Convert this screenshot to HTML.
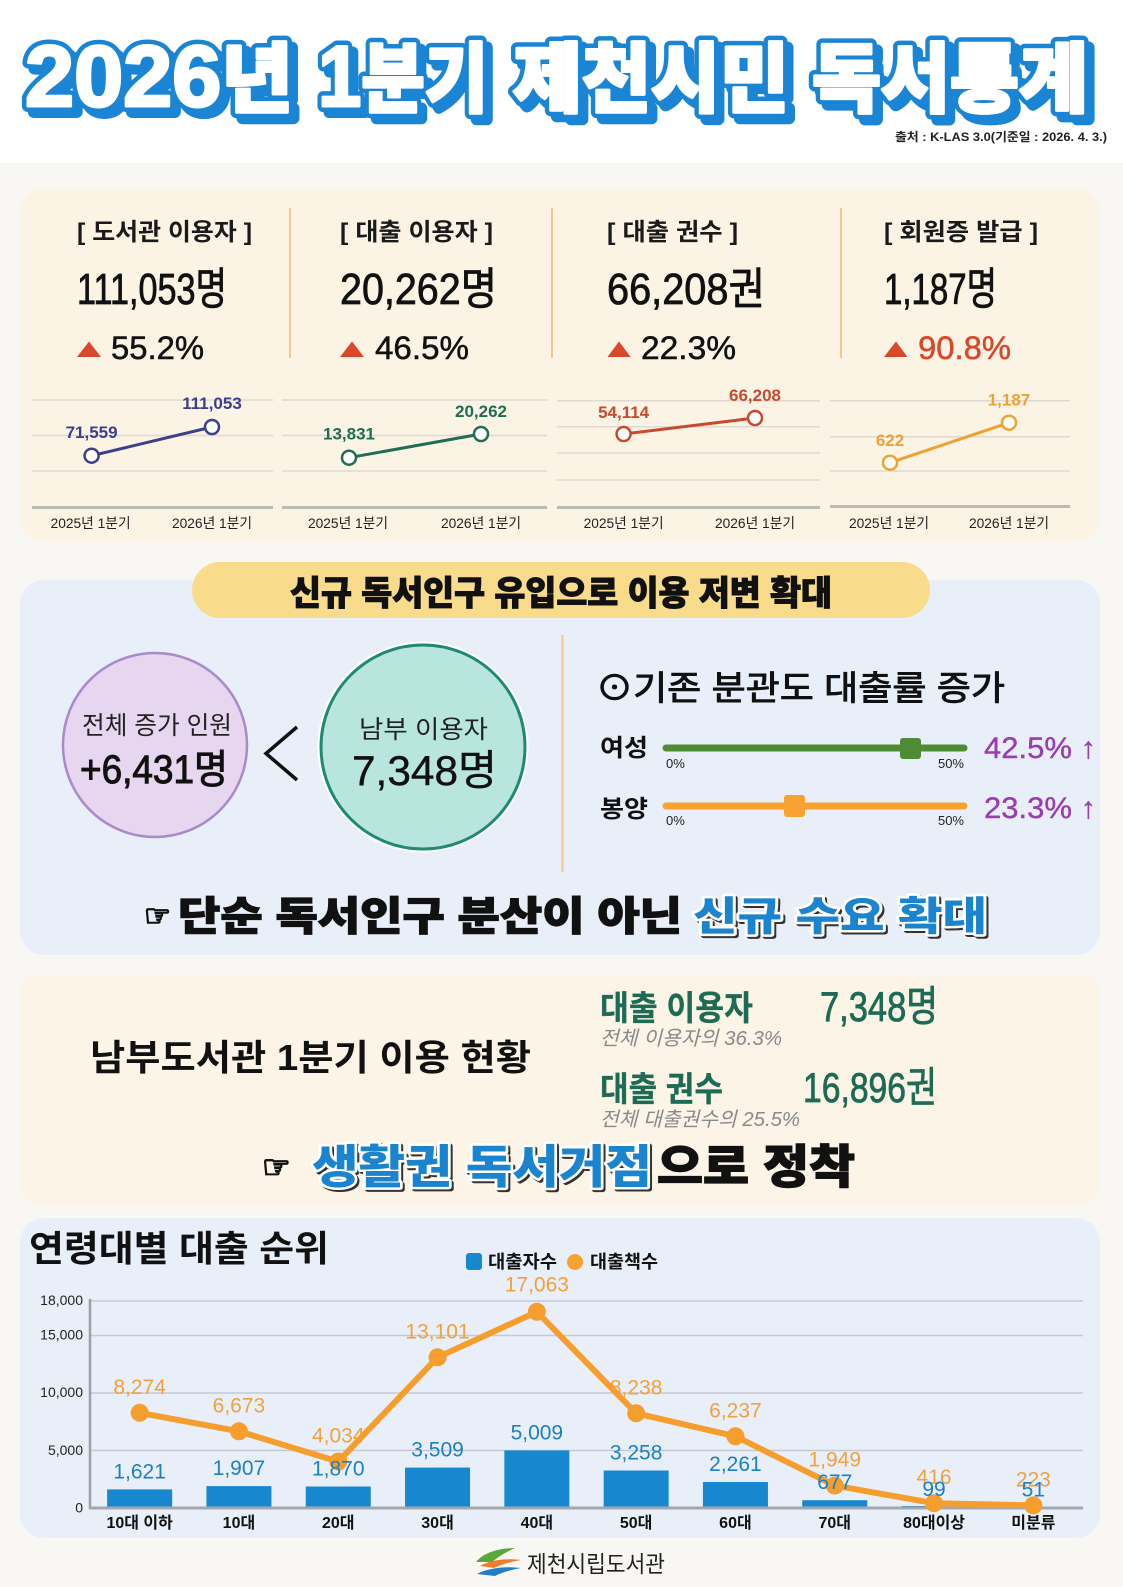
<!DOCTYPE html>
<html><head><meta charset="utf-8">
<style>
html,body{margin:0;padding:0;background:#f8f7f4;}
svg{display:block;}
text{font-family:"Liberation Sans","Noto Sans CJK KR","DejaVu Sans",sans-serif;}
.d{font-family:"DejaVu Sans","Liberation Sans",sans-serif;}
</style></head><body>
<svg width="1123" height="1587" viewBox="0 0 1123 1587" xmlns="http://www.w3.org/2000/svg">
<rect width="1123" height="1587" fill="#f8f7f4"/>
<rect width="1123" height="163" fill="#ffffff"/>

<!-- TITLE -->
<g font-weight="900">
 <g transform="translate(6,6)" fill="#1a85d5" stroke="#1a85d5" stroke-width="12" stroke-linejoin="round">
  <text x="25" y="106" textLength="268" lengthAdjust="spacingAndGlyphs"><tspan font-size="86">2026</tspan><tspan font-size="76">년</tspan></text>
  <text x="318" y="106" textLength="170" lengthAdjust="spacingAndGlyphs"><tspan font-size="86">1</tspan><tspan font-size="76">분기</tspan></text>
  <text x="513" y="106" font-size="76" textLength="276" lengthAdjust="spacingAndGlyphs">제천시민</text>
  <text x="812" y="106" font-size="76" textLength="276" lengthAdjust="spacingAndGlyphs">독서통계</text>
 </g>
 <g fill="#1a85d5" stroke="#1a85d5" stroke-width="12" stroke-linejoin="round">
  <text x="25" y="106" textLength="268" lengthAdjust="spacingAndGlyphs"><tspan font-size="86">2026</tspan><tspan font-size="76">년</tspan></text>
  <text x="318" y="106" textLength="170" lengthAdjust="spacingAndGlyphs"><tspan font-size="86">1</tspan><tspan font-size="76">분기</tspan></text>
  <text x="513" y="106" font-size="76" textLength="276" lengthAdjust="spacingAndGlyphs">제천시민</text>
  <text x="812" y="106" font-size="76" textLength="276" lengthAdjust="spacingAndGlyphs">독서통계</text>
 </g>
 <g fill="#ffffff" stroke="#ffffff" stroke-width="3" stroke-linejoin="round">
  <text x="25" y="106" textLength="268" lengthAdjust="spacingAndGlyphs"><tspan font-size="86">2026</tspan><tspan font-size="76">년</tspan></text>
  <text x="318" y="106" textLength="170" lengthAdjust="spacingAndGlyphs"><tspan font-size="86">1</tspan><tspan font-size="76">분기</tspan></text>
  <text x="513" y="106" font-size="76" textLength="276" lengthAdjust="spacingAndGlyphs">제천시민</text>
  <text x="812" y="106" font-size="76" textLength="276" lengthAdjust="spacingAndGlyphs">독서통계</text>
 </g>
</g>
<text x="1107" y="141" text-anchor="end" font-size="12" font-weight="bold" fill="#222" textLength="212" lengthAdjust="spacingAndGlyphs">출처 : K-LAS 3.0(기준일 : 2026. 4. 3.)</text>

<!-- PANELS -->
<rect x="20" y="189" width="1080" height="352" rx="22" fill="#fbf3e4"/>
<rect x="20" y="580" width="1080" height="375" rx="24" fill="#e9eff9"/>
<rect x="20" y="975" width="1080" height="230" rx="18" fill="#fbf4e7"/>
<rect x="20" y="1218" width="1080" height="320" rx="24" fill="#e9eff9"/>

<!-- PANEL 1 -->
<g stroke="#f2c892" stroke-width="2">
 <line x1="290" y1="208" x2="290" y2="358"/>
 <line x1="552" y1="208" x2="552" y2="358"/>
 <line x1="841" y1="208" x2="841" y2="358"/>
</g>
<g font-size="24" font-weight="bold" fill="#1a1a1a">
 <text x="77" y="240" textLength="175" lengthAdjust="spacingAndGlyphs">[ 도서관 이용자 ]</text>
 <text x="340" y="240" textLength="153" lengthAdjust="spacingAndGlyphs">[ 대출 이용자 ]</text>
 <text x="607" y="240" textLength="131" lengthAdjust="spacingAndGlyphs">[ 대출 권수 ]</text>
 <text x="884" y="240" textLength="154" lengthAdjust="spacingAndGlyphs">[ 회원증 발급 ]</text>
</g>
<g font-size="44" fill="#111" stroke="#111" stroke-width="0.8">
 <text x="77" y="304" textLength="150" lengthAdjust="spacingAndGlyphs">111,053명</text>
 <text x="340" y="304" textLength="157" lengthAdjust="spacingAndGlyphs">20,262명</text>
 <text x="607" y="304" textLength="158" lengthAdjust="spacingAndGlyphs">66,208권</text>
 <text x="884" y="304" textLength="113" lengthAdjust="spacingAndGlyphs">1,187명</text>
</g>
<g fill="#d9482b">
 <polygon points="77,357 89,341.5 101,357"/>
 <polygon points="340,357 352,341.5 364,357"/>
 <polygon points="607.5,357 619,341.5 630.7,357"/>
 <polygon points="884,357 896,341.5 907.5,357"/>
</g>
<g font-size="32" stroke-width="0.5">
 <text x="111" y="359" fill="#111" stroke="#111" textLength="93" lengthAdjust="spacingAndGlyphs">55.2%</text>
 <text x="375" y="359" fill="#111" stroke="#111" textLength="94" lengthAdjust="spacingAndGlyphs">46.5%</text>
 <text x="641" y="359" fill="#111" stroke="#111" textLength="95" lengthAdjust="spacingAndGlyphs">22.3%</text>
 <text x="918" y="359" fill="#d9482b" stroke="#d9482b" textLength="93" lengthAdjust="spacingAndGlyphs">90.8%</text>
</g>

<!-- mini charts -->
<g stroke="#dedad3" stroke-width="1.5">
 <line x1="32" y1="400" x2="273" y2="400"/><line x1="32" y1="435.5" x2="273" y2="435.5"/><line x1="32" y1="471" x2="273" y2="471"/>
 <line x1="282" y1="400" x2="547" y2="400"/><line x1="282" y1="435.5" x2="547" y2="435.5"/><line x1="282" y1="471" x2="547" y2="471"/>
 <line x1="557" y1="400.7" x2="820" y2="400.7"/><line x1="557" y1="426.7" x2="820" y2="426.7"/><line x1="557" y1="453" x2="820" y2="453"/><line x1="557" y1="480" x2="820" y2="480"/>
 <line x1="830" y1="400.7" x2="1070" y2="400.7"/><line x1="830" y1="436.7" x2="1070" y2="436.7"/><line x1="830" y1="471" x2="1070" y2="471"/>
</g>
<g stroke="#bcbab5" stroke-width="3">
 <line x1="32" y1="507.5" x2="273" y2="507.5"/>
 <line x1="282" y1="507.5" x2="547" y2="507.5"/>
 <line x1="557" y1="507.5" x2="820" y2="507.5"/>
 <line x1="830" y1="506.5" x2="1070" y2="506.5"/>
</g>
<g fill="none" stroke-width="3">
 <line x1="91.6" y1="455.7" x2="212" y2="427" stroke="#3b3f8c"/>
 <line x1="349" y1="457.7" x2="481" y2="434" stroke="#1f6d55"/>
 <line x1="623.6" y1="434" x2="755" y2="418" stroke="#c84a2e"/>
 <line x1="890" y1="462.7" x2="1009" y2="422.7" stroke="#eea234"/>
</g>
<g fill="#ffffff" stroke-width="2.5">
 <circle cx="91.6" cy="455.7" r="7" stroke="#3b3f8c"/><circle cx="212" cy="427" r="7" stroke="#3b3f8c"/>
 <circle cx="349" cy="457.7" r="7" stroke="#1f6d55"/><circle cx="481" cy="434" r="7" stroke="#1f6d55"/>
 <circle cx="623.6" cy="434" r="7" stroke="#c84a2e"/><circle cx="755" cy="418" r="7" stroke="#c84a2e"/>
 <circle cx="890" cy="462.7" r="7" stroke="#eea234"/><circle cx="1009" cy="422.7" r="7" stroke="#eea234"/>
</g>
<g font-size="17" font-weight="bold" text-anchor="middle">
 <text x="91.6" y="438" fill="#3b3f8c">71,559</text>
 <text x="212" y="409" fill="#3b3f8c">111,053</text>
 <text x="349" y="439.5" fill="#1f6d55">13,831</text>
 <text x="481" y="417" fill="#1f6d55">20,262</text>
 <text x="623.6" y="418" fill="#c84a2e">54,114</text>
 <text x="755" y="401" fill="#c84a2e">66,208</text>
 <text x="890" y="446" fill="#eea234">622</text>
 <text x="1009" y="405.5" fill="#eea234">1,187</text>
</g>
<g font-size="14" fill="#222" text-anchor="middle">
 <text x="90.6" y="528" textLength="80" lengthAdjust="spacingAndGlyphs">2025년 1분기</text>
 <text x="212" y="528" textLength="80" lengthAdjust="spacingAndGlyphs">2026년 1분기</text>
 <text x="348" y="528" textLength="80" lengthAdjust="spacingAndGlyphs">2025년 1분기</text>
 <text x="481" y="528" textLength="80" lengthAdjust="spacingAndGlyphs">2026년 1분기</text>
 <text x="623.6" y="528" textLength="80" lengthAdjust="spacingAndGlyphs">2025년 1분기</text>
 <text x="755" y="528" textLength="80" lengthAdjust="spacingAndGlyphs">2026년 1분기</text>
 <text x="889" y="528" textLength="80" lengthAdjust="spacingAndGlyphs">2025년 1분기</text>
 <text x="1009" y="528" textLength="80" lengthAdjust="spacingAndGlyphs">2026년 1분기</text>
</g>

<!-- PANEL 2 -->
<rect x="192" y="562" width="738" height="56" rx="28" fill="#f8dc8c"/>
<text x="290" y="605" font-size="34" font-weight="900" fill="#111" stroke="#111" stroke-width="1" textLength="542" lengthAdjust="spacingAndGlyphs">신규 독서인구 유입으로 이용 저변 확대</text>

<circle cx="155" cy="745" r="92" fill="#e6d6f0" stroke="#a88bc9" stroke-width="2.5"/>
<circle cx="423" cy="747" r="104" fill="none" stroke="#ffffff" stroke-width="3"/>
<circle cx="423" cy="747" r="102" fill="#b8e6df" stroke="#1f8a70" stroke-width="3"/>
<text x="157" y="734" text-anchor="middle" font-size="25" fill="#222" textLength="150" lengthAdjust="spacingAndGlyphs">전체 증가 인원</text>
<text x="154" y="783" text-anchor="middle" font-size="40" fill="#111" stroke="#111" stroke-width="1" textLength="148" lengthAdjust="spacingAndGlyphs">+6,431명</text>
<text x="423.5" y="738" text-anchor="middle" font-size="25" fill="#222" textLength="129" lengthAdjust="spacingAndGlyphs">남부 이용자</text>
<text x="424.5" y="785" text-anchor="middle" font-size="42" fill="#111" stroke="#111" stroke-width="0.4" textLength="145" lengthAdjust="spacingAndGlyphs">7,348명</text>
<path d="M297,727 L266,753.5 L297,780" fill="none" stroke="#111" stroke-width="3.5" stroke-linejoin="miter"/>

<line x1="562.5" y1="635" x2="562.5" y2="872" stroke="#f2c48e" stroke-width="2"/>
<text x="596" y="700" font-size="34" fill="#111" stroke="#111" stroke-width="0.9" textLength="409" lengthAdjust="spacingAndGlyphs">⊙기존 분관도 대출률 증가</text>

<text x="600" y="756" font-size="24" font-weight="bold" fill="#111" textLength="48" lengthAdjust="spacingAndGlyphs">여성</text>
<line x1="666" y1="748" x2="964" y2="748" stroke="#4f8b35" stroke-width="7" stroke-linecap="round"/>
<rect x="900" y="738" width="21" height="21" rx="3" fill="#4f8b35"/>
<text x="666" y="768" font-size="13" fill="#222">0%</text>
<text x="964" y="768" font-size="13" fill="#222" text-anchor="end">50%</text>
<text x="984" y="758" font-size="30" fill="#9a3db3" stroke="#9a3db3" stroke-width="0.4" textLength="112" lengthAdjust="spacingAndGlyphs">42.5% ↑</text>

<text x="600" y="817" font-size="24" font-weight="bold" fill="#111" textLength="48" lengthAdjust="spacingAndGlyphs">봉양</text>
<line x1="666" y1="806" x2="964" y2="806" stroke="#f8a232" stroke-width="7" stroke-linecap="round"/>
<rect x="784" y="795" width="21" height="22" rx="3" fill="#f8a232"/>
<text x="666" y="825" font-size="13" fill="#222">0%</text>
<text x="964" y="825" font-size="13" fill="#222" text-anchor="end">50%</text>
<text x="984" y="818" font-size="30" fill="#9a3db3" stroke="#9a3db3" stroke-width="0.4" textLength="112" lengthAdjust="spacingAndGlyphs">23.3% ↑</text>

<text x="144" y="926" class="d" font-size="30" fill="#111" stroke="#111" stroke-width="1.6">☞</text>
<text x="178" y="930" font-size="40" font-weight="900" fill="#111" stroke="#111" stroke-width="1.2" textLength="504" lengthAdjust="spacingAndGlyphs">단순 독서인구 분산이 아닌</text>
<text x="695" y="932" font-size="40" font-weight="900" fill="#333" stroke="#333" stroke-width="5" stroke-linejoin="round" textLength="294" lengthAdjust="spacingAndGlyphs">신규 수요 확대</text>
<text x="693" y="930" font-size="40" font-weight="900" fill="#1a84cf" stroke="#ffffff" stroke-width="5" stroke-linejoin="round" paint-order="stroke" textLength="294" lengthAdjust="spacingAndGlyphs">신규 수요 확대</text>

<!-- PANEL 3 -->
<text x="90" y="1070" font-size="36" font-weight="bold" fill="#111" textLength="441" lengthAdjust="spacingAndGlyphs">남부도서관 1분기 이용 현황</text>
<g fill="#1e6b55" stroke="#1e6b55">
 <text x="600" y="1020" font-size="34" font-weight="bold" stroke-width="0.3" textLength="153" lengthAdjust="spacingAndGlyphs">대출 이용자</text>
 <text x="820" y="1021" font-size="42" stroke-width="0.8" textLength="118" lengthAdjust="spacingAndGlyphs">7,348명</text>
 <text x="600" y="1101" font-size="34" font-weight="bold" stroke-width="0.3" textLength="123" lengthAdjust="spacingAndGlyphs">대출 권수</text>
 <text x="803" y="1102" font-size="42" stroke-width="0.8" textLength="134" lengthAdjust="spacingAndGlyphs">16,896권</text>
</g>
<text x="600" y="1045" font-size="20" font-style="italic" fill="#8a8a8a" textLength="182" lengthAdjust="spacingAndGlyphs">전체 이용자의 36.3%</text>
<text x="600" y="1126" font-size="20" font-style="italic" fill="#8a8a8a" textLength="200" lengthAdjust="spacingAndGlyphs">전체 대출권수의 25.5%</text>

<text x="262" y="1178" class="d" font-size="32" fill="#111" stroke="#111" stroke-width="1.6">☞</text>
<text x="314" y="1185" font-size="46" font-weight="900" fill="#333" stroke="#333" stroke-width="5" stroke-linejoin="round" textLength="340" lengthAdjust="spacingAndGlyphs">생활권 독서거점</text>
<text x="312" y="1183" font-size="46" font-weight="900" fill="#1a84cf" stroke="#ffffff" stroke-width="5" stroke-linejoin="round" paint-order="stroke" textLength="340" lengthAdjust="spacingAndGlyphs">생활권 독서거점</text>
<text x="657" y="1183" font-size="46" font-weight="900" fill="#111" stroke="#111" stroke-width="1.3" textLength="198" lengthAdjust="spacingAndGlyphs">으로 정착</text>

<!-- PANEL 4 -->
<text x="29" y="1261" font-size="36" font-weight="bold" fill="#111" textLength="300" lengthAdjust="spacingAndGlyphs">연령대별 대출 순위</text>
<rect x="466" y="1253" width="16" height="17" rx="3" fill="#1787d0"/>
<text x="488" y="1268" font-size="18" font-weight="bold" fill="#111" textLength="69" lengthAdjust="spacingAndGlyphs">대출자수</text>
<circle cx="575" cy="1262" r="8" fill="#f7a231"/>
<text x="590" y="1268" font-size="18" font-weight="bold" fill="#111" textLength="68" lengthAdjust="spacingAndGlyphs">대출책수</text>

<g stroke="#c5cad2" stroke-width="1.5">
 <line x1="90" y1="1301" x2="1083" y2="1301"/>
 <line x1="90" y1="1335.5" x2="1083" y2="1335.5"/>
 <line x1="90" y1="1393" x2="1083" y2="1393"/>
 <line x1="90" y1="1450.5" x2="1083" y2="1450.5"/>
</g>
<g font-size="14" fill="#222" text-anchor="end">
 <text x="83" y="1305">18,000</text>
 <text x="83" y="1339.5">15,000</text>
 <text x="83" y="1397">10,000</text>
 <text x="83" y="1455">5,000</text>
 <text x="83" y="1512.5">0</text>
</g>
<g fill="#1787d0">
 <rect x="107.15" y="1489.4" width="65" height="18.6"/>
 <rect x="206.45" y="1486.1" width="65" height="21.9"/>
 <rect x="305.75" y="1486.5" width="65" height="21.5"/>
 <rect x="405.05" y="1467.6" width="65" height="40.4"/>
 <rect x="504.35" y="1450.4" width="65" height="57.6"/>
 <rect x="603.65" y="1470.5" width="65" height="37.5"/>
 <rect x="702.95" y="1482" width="65" height="26"/>
 <rect x="802.25" y="1500.2" width="65" height="7.8"/>
 <rect x="901.55" y="1506" width="65" height="2"/>
 <rect x="1000.85" y="1506.5" width="65" height="1.5"/>
</g>
<line x1="90" y1="1299" x2="90" y2="1509" stroke="#9aa0a8" stroke-width="2.5"/>
<line x1="89" y1="1508" x2="1083" y2="1508" stroke="#a4a8ae" stroke-width="3"/>

<g font-size="21" fill="#f2a03c" text-anchor="middle">
 <text x="139.65" y="1393.8">8,274</text>
 <text x="238.95" y="1412.3">6,673</text>
 <text x="338.25" y="1442.6">4,034</text>
 <text x="437.55" y="1338.3">13,101</text>
 <text x="536.85" y="1291.5">17,063</text>
 <text x="636.15" y="1394.3">8,238</text>
 <text x="735.45" y="1417.3">6,237</text>
 <text x="834.75" y="1466.6">1,949</text>
 <text x="934.05" y="1484.2">416</text>
 <text x="1033.35" y="1486.4">223</text>
</g>
<polyline points="139.65,1412.8 238.95,1431.3 338.25,1461.6 437.55,1357.3 536.85,1311.8 636.15,1413.3 735.45,1436.3 834.75,1485.6 934.05,1503.2 1033.35,1505.4" fill="none" stroke="#f59e2d" stroke-width="6" stroke-linejoin="round"/>
<g fill="#f59e2d">
 <circle cx="139.65" cy="1412.8" r="9"/><circle cx="238.95" cy="1431.3" r="9"/><circle cx="338.25" cy="1461.6" r="9"/>
 <circle cx="437.55" cy="1357.3" r="9"/><circle cx="536.85" cy="1311.8" r="9"/><circle cx="636.15" cy="1413.3" r="9"/>
 <circle cx="735.45" cy="1436.3" r="9"/><circle cx="834.75" cy="1485.6" r="9"/><circle cx="934.05" cy="1503.2" r="9"/>
 <circle cx="1033.35" cy="1505.4" r="9"/>
</g>
<g font-size="21" fill="#1b80c4" text-anchor="middle">
 <text x="139.65" y="1478.4">1,621</text>
 <text x="238.95" y="1475.1">1,907</text>
 <text x="338.25" y="1475.5">1,870</text>
 <text x="437.55" y="1456.6">3,509</text>
 <text x="536.85" y="1439.4">5,009</text>
 <text x="636.15" y="1459.5">3,258</text>
 <text x="735.45" y="1471">2,261</text>
 <text x="834.75" y="1489.2">677</text>
 <text x="934.05" y="1495.9">99</text>
 <text x="1033.35" y="1496.4">51</text>
</g>
<g font-size="16" font-weight="bold" fill="#111" text-anchor="middle">
 <text x="139.65" y="1528">10대 이하</text>
 <text x="238.95" y="1528">10대</text>
 <text x="338.25" y="1528">20대</text>
 <text x="437.55" y="1528">30대</text>
 <text x="536.85" y="1528">40대</text>
 <text x="636.15" y="1528">50대</text>
 <text x="735.45" y="1528">60대</text>
 <text x="834.75" y="1528">70대</text>
 <text x="934.05" y="1528">80대이상</text>
 <text x="1033.35" y="1528">미분류</text>
</g>

<!-- FOOTER LOGO -->
<path d="M476,1562 C484,1552 500,1548 515,1548 C506,1552 498,1557 492,1562 Z" fill="#5aa83a"/>
<path d="M480,1566 C490,1560 505,1558 521,1560 C510,1562 500,1565 494,1568 Z" fill="#ef7d2f"/>
<path d="M477,1574 C488,1568 505,1566 521,1568 C510,1570 500,1573 495,1576 Z" fill="#1f7fc8"/>
<text x="527" y="1572" font-size="23" fill="#222" textLength="138" lengthAdjust="spacingAndGlyphs">제천시립도서관</text>
</svg>
</body></html>
